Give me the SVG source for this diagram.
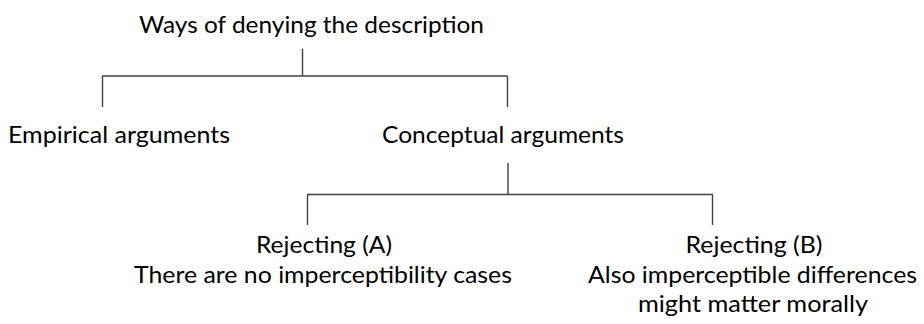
<svg xmlns="http://www.w3.org/2000/svg" width="924" height="324" viewBox="0 0 924 324">
<style>
  text { font-family: Lato, "Open Sans", "Liberation Sans", sans-serif; font-size: 24px; fill: #000; text-anchor: middle; }
  .conn line { stroke: #404040; stroke-width: 1.4; fill: none; }
</style>
<rect width="924" height="324" fill="#fff"/>
<g id="connectors" class="conn">
  <line x1="302.5" y1="49" x2="302.5" y2="76"/>
  <line x1="102" y1="76" x2="507.5" y2="76"/>
  <line x1="102.5" y1="76" x2="102.5" y2="107"/>
  <line x1="507.5" y1="76" x2="507.5" y2="107"/>
  <line x1="508" y1="163" x2="508" y2="194.5"/>
  <line x1="307" y1="194.5" x2="713" y2="194.5"/>
  <line x1="307.5" y1="194.5" x2="307.5" y2="225"/>
  <line x1="712.5" y1="194.5" x2="712.5" y2="225"/>
</g>
<g id="node-root">
  <text x="311.5" y="33" textLength="345" lengthAdjust="spacingAndGlyphs">Ways of denying the description</text>
</g>
<g id="node-empirical">
  <text x="119" y="143" textLength="222" lengthAdjust="spacingAndGlyphs">Empirical arguments</text>
</g>
<g id="node-conceptual">
  <text x="503" y="143" textLength="242" lengthAdjust="spacingAndGlyphs">Conceptual arguments</text>
</g>
<g id="node-reject-a">
  <text x="324" y="253" textLength="136" lengthAdjust="spacingAndGlyphs">Rejecting (A)</text>
  <text x="323" y="283" textLength="378" lengthAdjust="spacingAndGlyphs">There are no imperceptibility cases</text>
</g>
<g id="node-reject-b">
  <text x="754" y="253" textLength="137" lengthAdjust="spacingAndGlyphs">Rejecting (B)</text>
  <text x="752.5" y="283" textLength="329" lengthAdjust="spacingAndGlyphs">Also imperceptible differences</text>
  <text x="753" y="312" textLength="230" lengthAdjust="spacingAndGlyphs">might matter morally</text>
</g>
</svg>
